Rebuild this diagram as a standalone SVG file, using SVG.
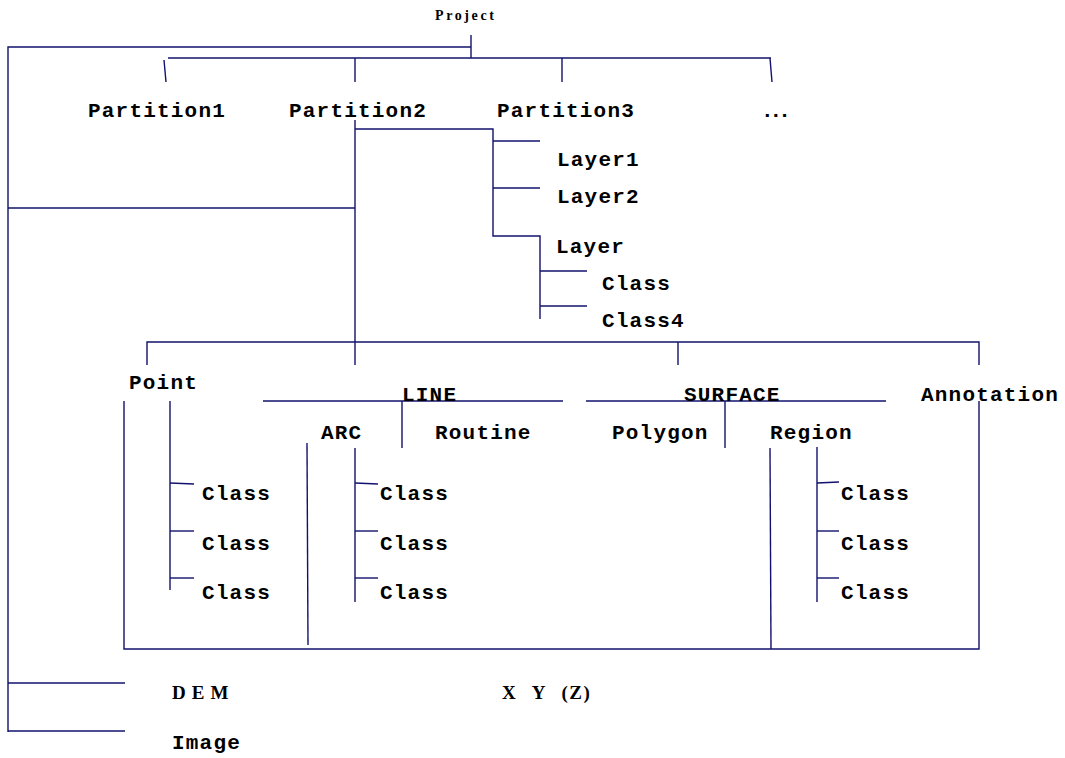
<svg xmlns="http://www.w3.org/2000/svg" width="1065" height="758" viewBox="0 0 1065 758">
<style>
.c line, .c polyline { stroke:#12126e; stroke-width:1.4; fill:none; }
.m { font-family:"Liberation Mono", "DejaVu Sans Mono", monospace; font-size:21px; font-weight:bold; letter-spacing:1.2px; fill:#000; }
.s { font-family:"Liberation Serif", "DejaVu Serif", serif; font-weight:bold; fill:#000; }
</style>
<rect width="1065" height="758" fill="#fff"/>
<g class="c" id="connectors">
  <line x1="471" y1="35" x2="471" y2="58"/>
  <polyline points="471,47 8,47 8,732"/>
  <line x1="168" y1="58" x2="771" y2="58"/>
  <line x1="164" y1="60" x2="166" y2="82"/>
  <line x1="355" y1="58" x2="355" y2="82"/>
  <line x1="562" y1="58" x2="562" y2="82"/>
  <line x1="770" y1="58" x2="772" y2="82"/>
  <line x1="355" y1="120" x2="355" y2="365"/>
  <polyline points="355,129 493,129 493,236 540,236 540,319"/>
  <line x1="493" y1="141" x2="540" y2="141"/>
  <line x1="493" y1="188" x2="540" y2="188"/>
  <line x1="540" y1="271" x2="587" y2="271"/>
  <line x1="540" y1="306" x2="587" y2="306"/>
  <line x1="8" y1="208" x2="355" y2="208"/>
  <polyline points="147,365 147,342 979,342 979,365"/>
  <line x1="678" y1="342" x2="678" y2="365"/>
  <line x1="263" y1="401" x2="563" y2="401"/>
  <line x1="402" y1="401" x2="402" y2="448"/>
  <line x1="586" y1="401" x2="886" y2="401"/>
  <line x1="725" y1="401" x2="725" y2="448"/>
  <polyline points="124,401 124,649 979,649 979,401"/>
  <line x1="170" y1="401" x2="170" y2="590"/>
  <line x1="170" y1="483" x2="194" y2="484"/>
  <line x1="170" y1="531" x2="194" y2="531"/>
  <line x1="170" y1="578" x2="194" y2="578"/>
  <line x1="307" y1="443" x2="308" y2="645"/>
  <line x1="355" y1="448" x2="355" y2="602"/>
  <line x1="355" y1="483" x2="378" y2="484"/>
  <line x1="355" y1="531" x2="378" y2="531"/>
  <line x1="355" y1="578" x2="378" y2="578"/>
  <line x1="770" y1="448" x2="771" y2="649"/>
  <line x1="817" y1="447" x2="817" y2="602"/>
  <line x1="817" y1="483" x2="839" y2="482"/>
  <line x1="817" y1="531" x2="839" y2="531"/>
  <line x1="817" y1="578" x2="839" y2="578"/>
  <line x1="8" y1="683" x2="125" y2="683"/>
  <line x1="8" y1="731" x2="125" y2="731"/>
</g>
<g id="project"><text class="s" x="435" y="20" font-size="14" letter-spacing="2.6">Project</text></g>
<g id="partition1"><text class="m" x="88" y="117">Partition1</text></g>
<g id="partition2"><text class="m" x="289" y="117">Partition2</text></g>
<g id="partition3"><text class="m" x="497" y="117">Partition3</text></g>
<g id="more"><text class="m" x="761" y="117" style="letter-spacing:-4px">...</text></g>
<g id="layer1"><text class="m" x="557" y="166">Layer1</text></g>
<g id="layer2"><text class="m" x="557" y="203">Layer2</text></g>
<g id="layer"><text class="m" x="556" y="253">Layer</text></g>
<g id="layer-class"><text class="m" x="602" y="290">Class</text></g>
<g id="layer-class4"><text class="m" x="602" y="327">Class4</text></g>
<g id="point"><text class="m" x="129" y="389">Point</text></g>
<g id="line"><text class="m" x="402" y="401">LINE</text></g>
<g id="surface"><text class="m" x="684" y="401">SURFACE</text></g>
<g id="annotation"><text class="m" x="921" y="401">Annotation</text></g>
<g id="arc"><text class="m" x="321" y="439">ARC</text></g>
<g id="routine"><text class="m" x="435" y="439">Routine</text></g>
<g id="polygon"><text class="m" x="612" y="439">Polygon</text></g>
<g id="region"><text class="m" x="770" y="439">Region</text></g>
<g id="point-classes">
  <text class="m" x="202" y="500">Class</text>
  <text class="m" x="202" y="550">Class</text>
  <text class="m" x="202" y="599">Class</text>
</g>
<g id="arc-classes">
  <text class="m" x="380" y="500">Class</text>
  <text class="m" x="380" y="550">Class</text>
  <text class="m" x="380" y="599">Class</text>
</g>
<g id="region-classes">
  <text class="m" x="841" y="500">Class</text>
  <text class="m" x="841" y="550">Class</text>
  <text class="m" x="841" y="599">Class</text>
</g>
<g id="dem"><text class="s" x="172" y="699" font-size="19" letter-spacing="6">DEM</text></g>
<g id="xyz"><text class="s" x="502" y="699" font-size="19" letter-spacing="1.5" word-spacing="9">X Y (Z)</text></g>
<g id="image"><text class="m" x="172" y="749">Image</text></g>
</svg>
